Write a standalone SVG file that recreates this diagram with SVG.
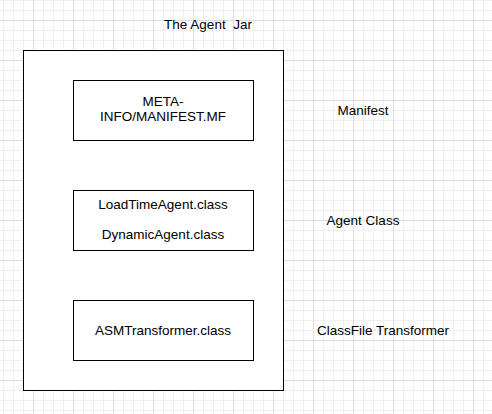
<svg xmlns="http://www.w3.org/2000/svg" width="492" height="414" viewBox="0 0 492 414">
<style>
.box{fill:#ffffff;stroke:#000000;stroke-width:1}
.t{font-family:"Comic Sans MS","Liberation Sans",sans-serif;font-size:13.5px;fill:#000000;text-anchor:middle;white-space:pre}
</style>
<defs>
<pattern id="minor" patternUnits="userSpaceOnUse" x="3" y="0" width="10" height="10">
<path d="M0.5 0V10M0 0.5H10" fill="none" stroke="#f0f0f0" stroke-width="1"/>
</pattern>
<pattern id="major" patternUnits="userSpaceOnUse" x="33" y="20" width="40" height="40">
<path d="M0.5 0V40M0 0.5H40" fill="none" stroke="#dddddd" stroke-width="1"/>
</pattern>
</defs>
<g id="background">
<rect width="492" height="414" fill="#ffffff"/>
<rect width="492" height="414" fill="url(#minor)"/>
<rect width="492" height="414" fill="url(#major)"/>
</g>
<g id="agent-jar">
<rect class="box" x="23.5" y="50.5" width="260" height="340"/>
<text class="t" x="208" y="29" xml:space="preserve">The Agent  Jar</text>
</g>
<g id="manifest-node">
<rect class="box" x="73.5" y="80.5" width="180" height="60"/>
<text class="t" x="163" y="106">META-</text>
<text class="t" x="163" y="121">INFO/MANIFEST.MF</text>
</g>
<g id="agent-class-node">
<rect class="box" x="73.5" y="190.5" width="180" height="60"/>
<text class="t" x="163" y="209">LoadTimeAgent.class</text>
<text class="t" x="163" y="239">DynamicAgent.class</text>
</g>
<g id="transformer-node">
<rect class="box" x="73.5" y="300.5" width="180" height="60"/>
<text class="t" x="163" y="335">ASMTransformer.class</text>
</g>
<g id="labels">
<text class="t" x="363" y="115">Manifest</text>
<text class="t" x="363" y="225">Agent Class</text>
<text class="t" x="383" y="335">ClassFile Transformer</text>
</g>
<g id="connectors"/>
</svg>
